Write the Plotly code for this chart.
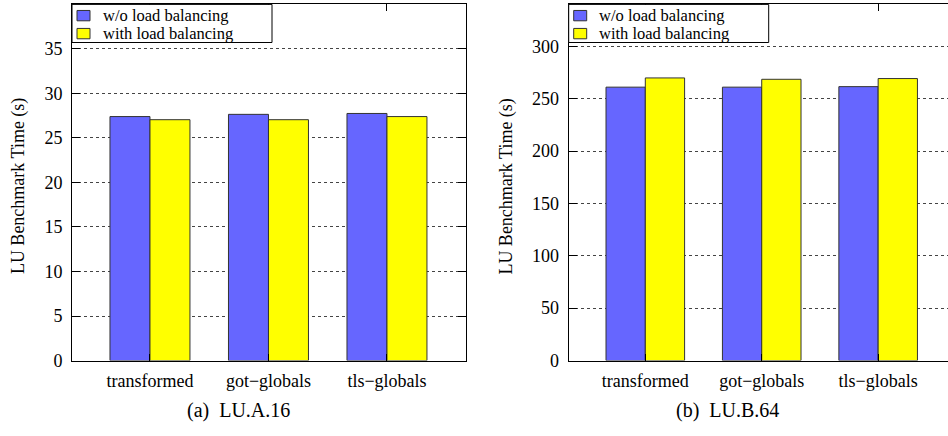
import plotly.graph_objects as go

# Benchmark variants (x categories)
variants = ["transformed", "got\u2212globals", "tls\u2212globals"]

# LU.A.16 run times in seconds
a16_without_lb = [27.4, 27.65, 27.75]
a16_with_lb = [27.05, 27.05, 27.4]

# LU.B.64 run times in seconds
b64_without_lb = [261.0, 261.0, 261.5]
b64_with_lb = [269.8, 268.5, 269.2]

series_names = ["w/o load balancing", "with load balancing"]
a16_ticks = [0, 5, 10, 15, 20, 25, 30, 35]
b64_ticks = [0, 50, 100, 150, 200, 250, 300]

BLUE = "#6666ff"
YELLOW = "#ffff00"
EDGE = "#333333"
FONT = "Times New Roman"
W, H = 948, 436

fig = go.Figure()


def add_pair(xa, ya, series):
    for vals, color in series:
        fig.add_trace(go.Bar(
            x=variants, y=vals, xaxis=xa, yaxis=ya, showlegend=False,
            marker=dict(color=color, line=dict(color=EDGE, width=1)),
        ))


add_pair("x", "y", [(a16_without_lb, BLUE), (a16_with_lb, YELLOW)])
add_pair("x2", "y2", [(b64_without_lb, BLUE), (b64_with_lb, YELLOW)])

# plot-area geometry in pixels
L1, R1 = 72, 466
L2, R2 = 568.7, 948
TOP, BOT = 4.5, 369
ydom = [(H - BOT) / H, (H - TOP) / H]


def px(x):
    return x / W


def py(y):
    return (H - y) / H


grid_style = dict(showgrid=True, gridcolor="#444444", griddash="dot", gridwidth=1)
axis_common = dict(showline=True, linecolor="black", linewidth=1,
                   ticks="inside", tickcolor="black", zeroline=False,
                   tickfont=dict(family=FONT, size=18, color="black"))

# Key boxes drawn in the top-left corner of each panel
shapes, annotations = [], []
for left in (L1, L2):
    shapes.append(dict(type="rect", xref="paper", yref="paper",
                       x0=px(left), x1=px(left + 200), y0=py(43.5), y1=py(TOP),
                       line=dict(color="black", width=1), fillcolor="white",
                       layer="above"))
    for i, (name, color) in enumerate(zip(series_names, [BLUE, YELLOW])):
        mid = 16.0 + i * 18.4
        shapes.append(dict(type="rect", xref="paper", yref="paper",
                           x0=px(left + 5), x1=px(left + 18),
                           y0=py(mid + 5.3), y1=py(mid - 5.3),
                           line=dict(color=EDGE, width=1), fillcolor=color,
                           layer="above"))
        annotations.append(dict(text=name, xref="paper", yref="paper",
                                x=px(left + 28.5), y=py(mid),
                                xanchor="left", yanchor="middle",
                                showarrow=False,
                                font=dict(family=FONT, size=16.5)))

for x in (18.5, 507):
    annotations.append(dict(text="LU Benchmark Time (s)", x=px(x), y=py(191),
                            xref="paper", yref="paper", textangle=-90,
                            xanchor="center", yanchor="middle",
                            showarrow=False, font=dict(family=FONT, size=18)))

for text, x in (("(a)\u00a0\u00a0LU.A.16", 238.3), ("(b)\u00a0\u00a0LU.B.64", 727.3)):
    annotations.append(dict(text=text, x=px(x), y=py(420),
                            xref="paper", yref="paper",
                            xanchor="center", yanchor="middle",
                            showarrow=False, font=dict(family=FONT, size=20)))

fig.update_layout(
    width=W, height=H,
    margin=dict(l=0, r=0, t=0, b=0),
    paper_bgcolor="white", plot_bgcolor="white",
    barmode="group", bargap=0.325, bargroupgap=0,
    font=dict(family=FONT, size=17, color="black"),
    showlegend=False,
    xaxis=dict(domain=[px(L1), px(R1)], anchor="y", type="category",
               range=[-0.658, 2.667], mirror="allticks", ticklen=7,
               ticklabelstandoff=4, showgrid=False, **axis_common),
    yaxis=dict(domain=ydom, anchor="x", range=[0, 40], tickvals=a16_ticks,
               mirror="allticks", ticklen=8, ticklabelstandoff=5,
               **grid_style, **axis_common),
    xaxis2=dict(domain=[px(L2), px(R2)], anchor="y2", type="category",
                range=[-0.658, 2.60], mirror="allticks", ticklen=7,
                ticklabelstandoff=4, showgrid=False, **axis_common),
    yaxis2=dict(domain=ydom, anchor="x2", range=[0, 340], tickvals=b64_ticks,
                mirror=False, ticklen=8, ticklabelstandoff=5,
                **grid_style, **axis_common),
    shapes=shapes,
    annotations=annotations,
)

fig.write_html("out.html")
